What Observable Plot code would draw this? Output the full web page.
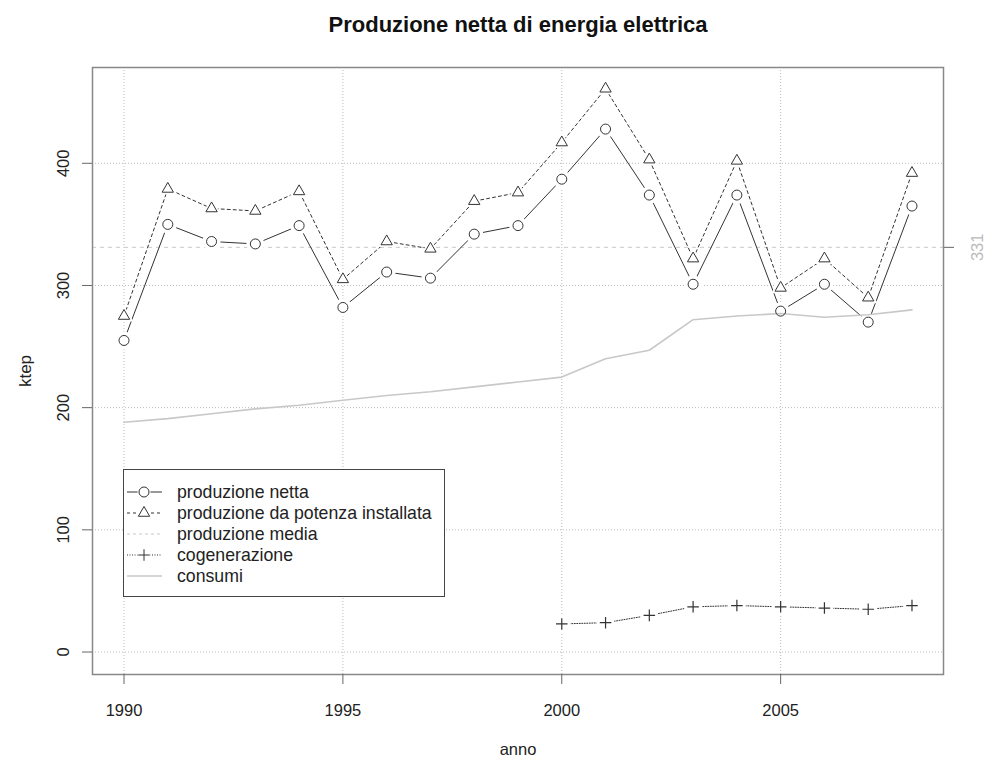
<!DOCTYPE html>
<html><head><meta charset="utf-8">
<script src="https://cdn.jsdelivr.net/npm/d3@7"></script>
<script src="https://cdn.jsdelivr.net/npm/@observablehq/plot@0.6"></script>
<style>
body{margin:0;background:#fff;font-family:"Liberation Sans",Arial,sans-serif;}
#wrap{position:relative;width:987px;height:760px;}
#legend{position:absolute;left:123px;top:469px;}
</style></head><body><div id="wrap"></div>
<script>
// ---- data ----
const anni = [1990,1991,1992,1993,1994,1995,1996,1997,1998,1999,2000,2001,2002,2003,2004,2005,2006,2007,2008];
const produzioneNetta = [255,350,336,334,349,282,311,306,342,349,387,428,374,301,374,279,301,270,365];
const potenzaInstallata = [275,379,363,361,377,305,336,330,369,376,417,461,403,322,402,298,322,290,392];
const consumi = [188,191,195,199,202,206,210,213,217,221,225,240,247,272,275,277,274,276,280];
const anniCogenerazione = [2000,2001,2002,2003,2004,2005,2006,2007,2008];
const cogenerazione = [23,24,30,37,38,37,36,35,38];
const xTicks = [1990,1995,2000,2005];
const yTicks = [0,100,200,300,400];
const legendLabels = ["produzione netta","produzione da potenza installata","produzione media","cogenerazione","consumi"];
const titolo = "Produzione netta di energia elettrica";

// ---- tables ----
const rows = anni.map((a,i)=>({anno:a, netta:produzioneNetta[i], potenza:potenzaInstallata[i], consumi:consumi[i]}));
const cog = anniCogenerazione.map((a,i)=>({anno:a, v:cogenerazione[i]}));
const media = d3.mean(produzioneNetta);

const font = '"Liberation Sans", Arial, Helvetica, sans-serif';
const dark = "#333";
const light = "#c8c8c8";
const txt = "#222";
const mid = {textAnchor: "middle", lineAnchor: "middle"};

const chart = Plot.plot({
  width: 987, height: 760,
  marginLeft: 92, marginRight: 44, marginTop: 67, marginBottom: 86,
  style: {fontFamily: font, fontSize: "16.5px", background: "white", color: txt},
  x: {domain: [1989.28, 2008.72]},
  y: {domain: [-18.4, 478.4]},
  marks: [
    Plot.gridX(xTicks, {stroke: "#bbb", strokeOpacity: 1, strokeDasharray: "1,2"}),
    Plot.gridY(yTicks, {stroke: "#bbb", strokeOpacity: 1, strokeDasharray: "1,2"}),
    Plot.ruleY([media], {stroke: light, strokeDasharray: "4,4"}),
    // produzione netta
    Plot.line(rows, {x: "anno", y: "netta", stroke: dark, strokeWidth: 1}),
    Plot.dot(rows, {x: "anno", y: "netta", r: 9, fill: "white", stroke: null}),
    // potenza installata
    Plot.line(rows, {x: "anno", y: "potenza", stroke: dark, strokeWidth: 1, strokeDasharray: "3,3"}),
    Plot.dot(rows, {x: "anno", y: "potenza", symbol: "triangle", r: 7, fill: "white", stroke: null}),
    // cogenerazione
    Plot.line(cog, {x: "anno", y: "v", stroke: dark, strokeWidth: 1, strokeDasharray: "1,1.5"}),
    Plot.dot(cog, {x: "anno", y: "v", r: 9, fill: "white", stroke: null}),
    // consumi
    Plot.line(rows, {x: "anno", y: "consumi", stroke: light, strokeWidth: 1.6}),
    // markers
    Plot.dot(rows, {x: "anno", y: "netta", r: 5, fill: "none", stroke: dark, strokeWidth: 1}),
    Plot.dot(rows, {x: "anno", y: "potenza", symbol: "triangle", r: 4.2, fill: "none", stroke: dark, strokeWidth: 1}),
    Plot.dot(cog, {x: "anno", y: "v", symbol: "plus", r: 3.8, stroke: dark, strokeWidth: 1.2}),
    Plot.frame({stroke: "#888", strokeWidth: 1.5}),
    // axes
    Plot.axisX({ticks: xTicks, tickSize: 10, tickFormat: () => "", stroke: "#666", label: null}),
    Plot.axisY({ticks: yTicks, tickSize: 10, tickFormat: () => "", stroke: "#666", label: null}),
    Plot.axisY({anchor: "right", ticks: [media], tickSize: 10, tickFormat: () => "", stroke: "#666", label: null}),
    Plot.text(xTicks, {x: d => d, text: d => String(d), frameAnchor: "bottom", dy: 36, fill: txt, ...mid}),
    Plot.text(yTicks, {y: d => d, text: d => String(d), frameAnchor: "left", dx: -29, rotate: -90, fill: txt, ...mid}),
    Plot.text([media], {y: d => d, text: d => String(Math.round(d)), frameAnchor: "right", dx: 34, rotate: -90, fill: "#bbb", ...mid}),
    Plot.text(["anno"], {text: d => d, frameAnchor: "bottom", dy: 75, fill: txt, fontSize: 16.5, ...mid}),
    Plot.text(["ktep"], {text: d => d, frameAnchor: "left", dx: -67, rotate: -90, fill: txt, fontSize: 17, ...mid}),
    Plot.text([titolo], {text: d => d, frameAnchor: "top", dy: -43, fontWeight: "bold", fontSize: 22, fill: "#111", ...mid})
  ]
});
const wrap = document.getElementById("wrap");
wrap.appendChild(chart);

// ---- legend (box overlay) ----
const lw = 322, lh = 128;
const leg = d3.create("svg").attr("id", "legend").attr("width", lw).attr("height", lh)
  .style("font-family", font).style("font-size", "17.7px");
leg.append("rect").attr("x", 0.5).attr("y", 0.5).attr("width", lw - 1).attr("height", lh - 1)
  .attr("fill", "white").attr("stroke", "#444");
const styles = [
  {stroke: dark, dash: null, sym: d3.symbolCircle, r: 5, w: 1},
  {stroke: dark, dash: "3,3", sym: d3.symbolTriangle, r: 4.2, w: 1},
  {stroke: light, dash: "3,3", sym: null, w: 1},
  {stroke: dark, dash: "1,1.5", sym: d3.symbolPlus, r: 3.8, w: 1},
  {stroke: light, dash: null, sym: null, w: 1.6}
];
legendLabels.forEach((lab, i) => {
  const s = styles[i];
  const cy = 23 + i * 21;
  const g = leg.append("g").attr("transform", `translate(0,${cy})`);
  g.append("line").attr("x1", 4).attr("x2", 39).attr("y1", 0).attr("y2", 0)
    .attr("stroke", s.stroke).attr("stroke-width", s.w).attr("stroke-dasharray", s.dash);
  if (s.sym) {
    g.append("circle").attr("cx", 21).attr("cy", 0).attr("r", 6.5).attr("fill", "white");
    g.append("path").attr("transform", "translate(21,0)")
      .attr("d", d3.symbol(s.sym, Math.PI * s.r * s.r)())
      .attr("fill", "none").attr("stroke", dark).attr("stroke-width", 1);
  }
  g.append("text").attr("x", 54).attr("y", 0).attr("dy", "0.35em").attr("fill", txt).text(lab);
});
wrap.appendChild(leg.node());
</script></body></html>
